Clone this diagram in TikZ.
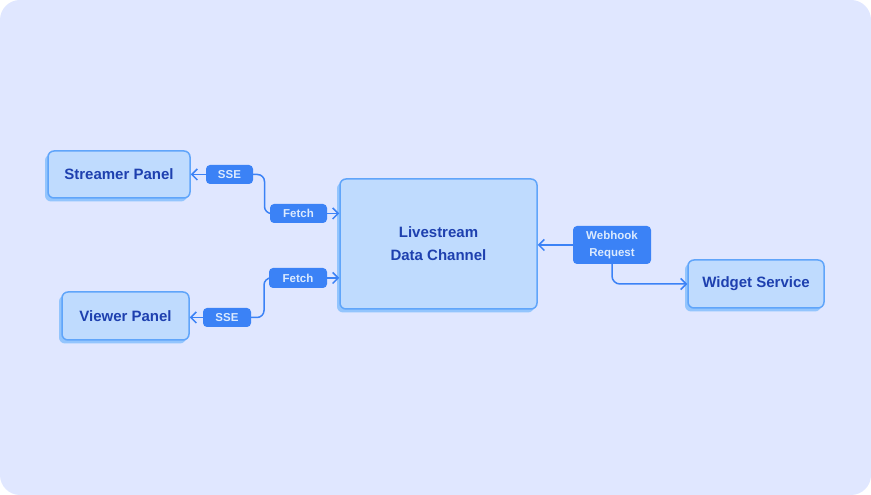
\documentclass[tikz,border=0pt]{standalone}
\usepackage{fontspec}
\setmainfont{Liberation Sans}
\usetikzlibrary{arrows.meta,shadows,calc}
\definecolor{bgc}{HTML}{E0E7FF}
\definecolor{boxfill}{HTML}{BFDBFE}
\definecolor{boxdraw}{HTML}{60A5FA}
\definecolor{boxshadow}{HTML}{93C5FD}
\definecolor{boxtext}{HTML}{1E40AF}
\definecolor{tagfill}{HTML}{3B82F6}
\definecolor{tagtext}{HTML}{DBEAFE}
\definecolor{linec}{HTML}{3B82F6}
\tikzset{
  box/.style={draw=boxdraw, line width=1.5pt, fill=boxfill, rounded corners=6pt,
    text=boxtext, font=\fontsize{15}{23}\selectfont\bfseries, align=center,
    inner sep=0pt,
    general shadow={fill=boxshadow, shadow xshift=-3pt, shadow yshift=-3.5pt}},
  tag/.style={fill=tagfill, rounded corners=4pt, text=tagtext, inner sep=0pt,
    font=\fontsize{11.5}{17}\selectfont\bfseries, align=center},
  link/.style={draw=linec, line width=1.5pt},
  tip/.style={-{Straight Barb[length=5.5pt,width=11pt,line width=1.5pt]}},
}
\begin{document}
\begin{tikzpicture}[x=1pt,y=1pt]
\useasboundingbox (0,0) rectangle (871,495);
\fill[white] (0,0) rectangle (871,495);
\fill[bgc, rounded corners=20pt] (0,0) rectangle (871,495);

\node[box, minimum width=142pt, minimum height=47pt] (streamer) at (119,320.5) {Streamer Panel};
\node[box, minimum width=127pt, minimum height=48pt] (viewer) at (125.5,179) {Viewer Panel};
\node[box, minimum width=197pt, minimum height=130pt] (central) at (438.5,251) {Livestream\\Data Channel};
\node[box, minimum width=136pt, minimum height=48pt] (widget) at (756,211) {Widget Service};

\node[tag, minimum width=47pt, minimum height=19pt] (sse1) at (229.5,320.5) {SSE};
\node[tag, minimum width=57pt, minimum height=19pt] (fetch1) at (298.5,281.5) {Fetch};
\node[tag, minimum width=58pt, minimum height=20pt] (fetch2) at (298,217) {Fetch};
\node[tag, minimum width=48pt, minimum height=19pt] (sse2) at (227,177.5) {SSE};
\node[tag, minimum width=78pt, minimum height=38pt] (webhook) at (612,250) {Webhook\\Request};

% top pair
\draw[link, tip] (sse1.west) -- (streamer.east |- sse1.west);
\draw[link, rounded corners=7pt] (sse1.east) -| ($(sse1.east)!0.5!(fetch1.west)+(3,0)$) |- (fetch1.west);
\draw[link, tip] (fetch1.east) -- (central.west |- fetch1.east);
% bottom pair
\draw[link, tip] (sse2.west) -- (viewer.east |- sse2.west);
\draw[link, rounded corners=7pt] (sse2.east) -| ($(sse2.east)!0.5!(fetch2.west)+(4,0)$) |- (fetch2.west);
\draw[link, tip] (fetch2.east) -- (central.west |- fetch2.east);
% webhook
\draw[link, tip] (webhook.west) -- (central.east |- webhook.west);
\draw[link, tip, rounded corners=8pt] (webhook.south) |- (widget.west);
\end{tikzpicture}
\end{document}
